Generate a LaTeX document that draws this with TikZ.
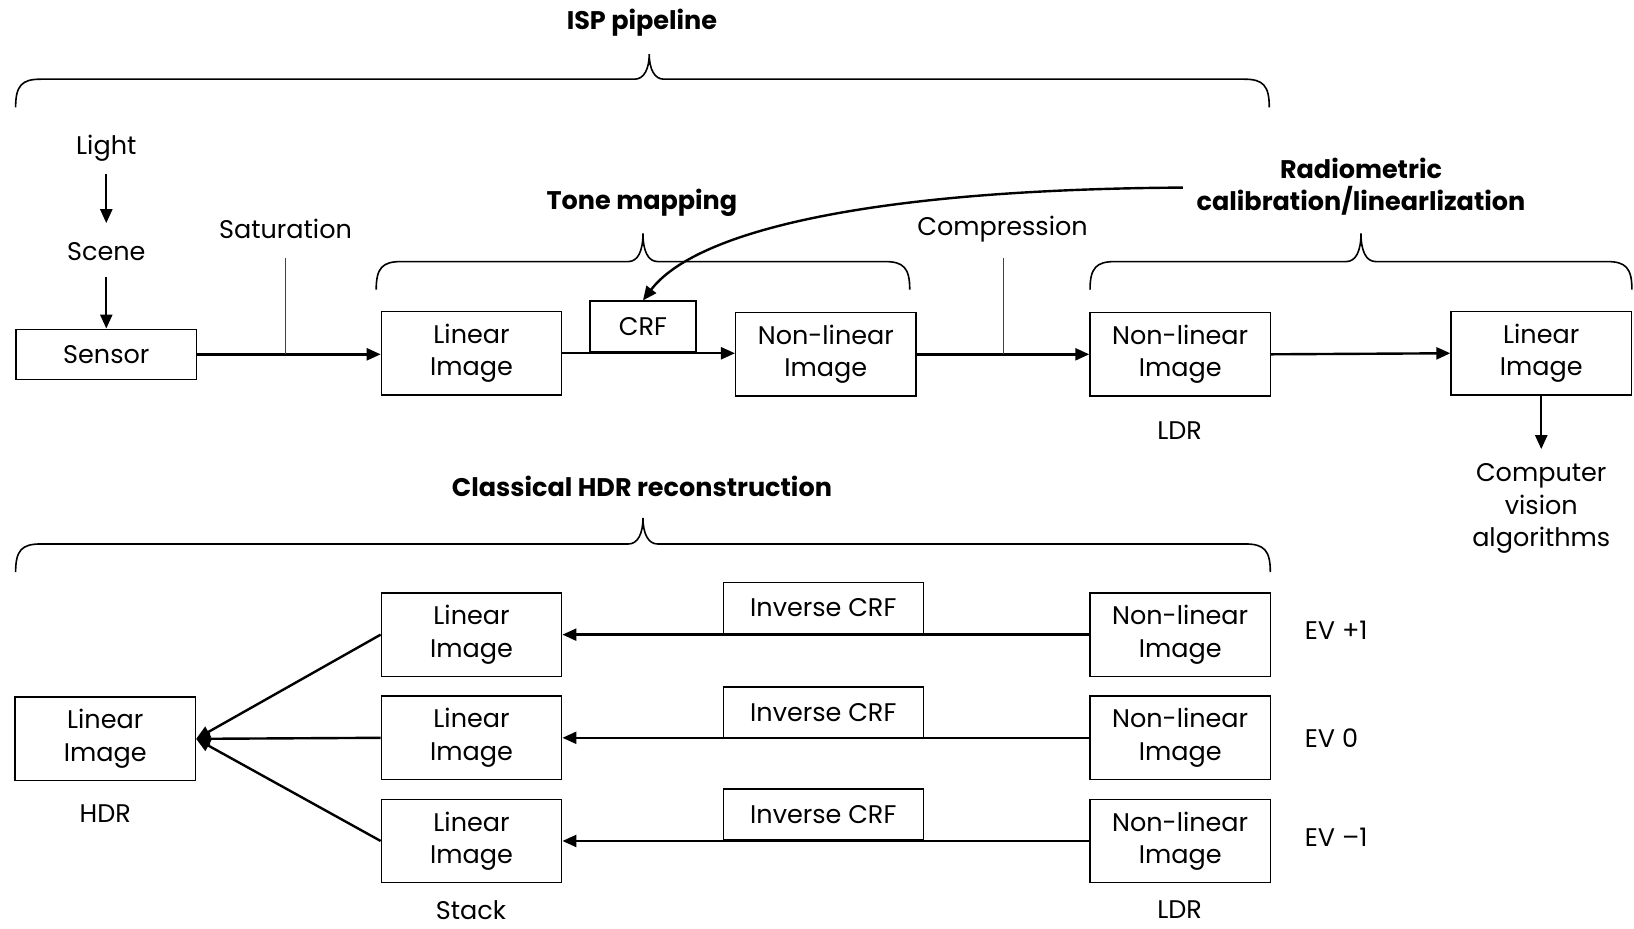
\documentclass[tikz,border=0pt]{standalone}
\usepackage{fontspec}
\setmainfont{Poppins}
\usetikzlibrary{arrows.meta}

% Horizontal curly brace: left x, right x, tip x, bar y, tip y (y grows downwards)
\newcommand{\hbrace}[5]{%
  \draw[brace] (#1,#4+27) .. controls (#1,#4+6) and (#1+6,#4) .. (#1+24,#4)
    -- (#3-14,#4) .. controls (#3-5,#4) and (#3,#4-10) .. (#3,#5)
    .. controls (#3,#4-10) and (#3+5,#4) .. (#3+14,#4)
    -- (#2-24,#4) .. controls (#2-6,#4) and (#2,#4+6) .. (#2,#4+27);}

\begin{document}
\begin{tikzpicture}[x=1.0421pt, y=-1.0421pt,
  lbl/.style={font=\fontsize{25.5}{32.3}\selectfont, align=center, inner sep=0pt},
  ttl/.style={font=\fontsize{25.5}{32.3}\selectfont\bfseries, align=center, inner sep=0pt},
  box/.style={lbl, draw=black, line width=1.5pt, minimum width=180.3pt, minimum height=83.4pt},
  smallbox/.style={lbl, draw=black, line width=1.5pt, minimum height=51pt},
  arr/.style={line width=2.4pt, -{Triangle[length=14pt,width=12pt]}},
  tickline/.style={line width=0.8pt, draw=black!75},
  brace/.style={line width=1.6pt, draw=black}]
\useasboundingbox (0,0) rectangle (1568,891);

% ---------------- ISP pipeline ----------------
\node[ttl] (isp) at (616,22) {ISP pipeline};
\hbrace{15}{1218}{623}{76}{52}

\node[lbl] (light) at (102,142) {Light};
\node[lbl] (scene) at (102,241) {Scene};
\node[box, minimum height=50pt] (sensor) at (102,340) {Sensor};
\draw[arr] ([yshift=-26pt]light.center) -- ([yshift=28pt]scene.center);
\draw[arr] ([yshift=-26pt]scene.center) -- (sensor.north);

\node[box] (lin1) at (452.5,339) {Linear\\Image};
\node[box] (nl1) at (792.5,340) {Non-linear\\Image};
\node[box] (nl2) at (1132.5,340) {Non-linear\\Image};
\node[box] (lin2) at (1479,339) {Linear\\Image};
\node[smallbox, minimum width=106pt] (crf) at (617,313.5) {CRF};

\draw[arr] (sensor.east) -- (sensor.east -| lin1.west);
\draw[arr] (lin1.east) -- (lin1.east -| nl1.west);
\draw[arr] (nl1.east) -- (nl1.east -| nl2.west);
\draw[arr] (nl2.east) -- (lin2.west);

% threshold markers
\node[lbl] (satl) at (274,220) {Saturation};
\coordinate (sattop) at (274,248);
\draw[tickline] (sattop) -- (sattop |- sensor.east);
\node[lbl] (compl) at (962,220) {Compression};
\coordinate (comptop) at (963,248);
\draw[tickline] (comptop) -- (comptop |- nl1.east);

% tone mapping
\node[ttl] (tone) at (616,195) {Tone mapping};
\hbrace{361}{873}{617}{251}{224}

% radiometric calibration
\node[ttl] (radio) at (1306,179) {Radiometric\\calibration/linearlization};
\hbrace{1046}{1566}{1306}{251}{224}
\coordinate (rstart) at (1135,180);
\draw[arr] (rstart) .. controls (820,182) and (665,225) .. (crf.north);

\node[lbl] (ldr1) at (1132,413) {LDR};
\node[lbl] (cv) at (1479,488) {Computer\\vision\\algorithms};
\coordinate (cvtop) at (1479,431);
\draw[arr] (lin2.south) -- (cvtop);

% ---------------- Classical HDR reconstruction ----------------
\node[ttl] (hdrt) at (616,467) {Classical HDR reconstruction};
\hbrace{15}{1219}{617}{522}{497}

\node[box] (hdr) at (101,709) {Linear\\Image};
\node[lbl] (hdrl) at (101,781) {HDR};

\node[box] (s1) at (452.5,609) {Linear\\Image};
\node[box] (s2) at (452.5,708) {Linear\\Image};
\node[box] (s3) at (452.5,807) {Linear\\Image};
\node[lbl] (stackl) at (452,873) {Stack};

\node[box] (n1) at (1132.5,609) {Non-linear\\Image};
\node[box] (n2) at (1132.5,708) {Non-linear\\Image};
\node[box] (n3) at (1132.5,807) {Non-linear\\Image};
\node[lbl] (ldr2) at (1132,873) {LDR};

\node[smallbox, minimum width=200pt] (i1) at (790,583.5) {Inverse CRF};
\node[smallbox, minimum width=200pt] (i2) at (790,683.5) {Inverse CRF};
\node[smallbox, minimum width=200pt] (i3) at (790,781.5) {Inverse CRF};

\node[lbl, anchor=west] (ev1) at (1252,605) {EV +1};
\node[lbl, anchor=west] (ev2) at (1252,708) {EV 0};
\node[lbl, anchor=west] (ev3) at (1252,803) {EV –1};

\draw[arr] (n1.west) -- (s1.east);
\draw[arr] (n2.west) -- (s2.east);
\draw[arr] (n3.west) -- (s3.east);

\draw[arr] (s1.west) -- (hdr.east);
\draw[arr] (s2.west) -- (hdr.east);
\draw[arr] (s3.west) -- (hdr.east);
\end{tikzpicture}
\end{document}
